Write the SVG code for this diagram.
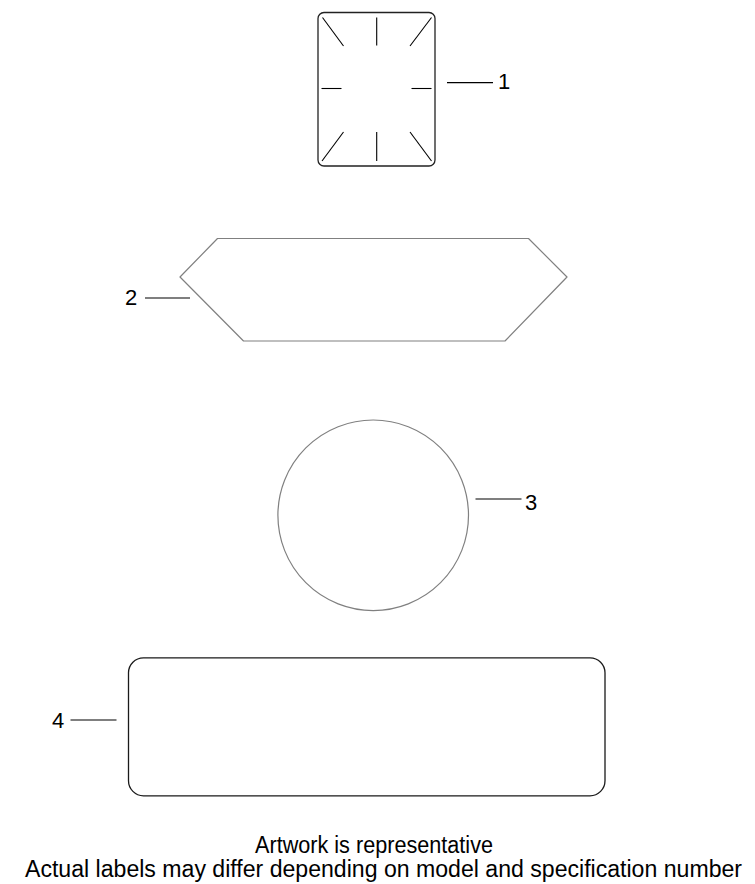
<svg xmlns="http://www.w3.org/2000/svg" width="755" height="884" viewBox="0 0 755 884">
<style>
.lead{stroke:#000;stroke-width:1.2;fill:none}
.num{font-family:"Liberation Sans",Arial,sans-serif;font-size:22px;fill:#000}
.note{font-family:"Liberation Sans",Arial,sans-serif;font-size:23px;fill:#000}
.mark{stroke:#000;stroke-width:1.1;fill:none}
</style>
<rect width="755" height="884" fill="#fff"/>
<g id="node1">
<rect x="318" y="12.5" width="117" height="153.5" rx="6" fill="none" stroke="#222" stroke-width="1.3"/>
<line class="mark" x1="322.5" y1="17.5" x2="343.5" y2="46"/>
<line class="mark" x1="376.7" y1="17.5" x2="376.7" y2="45.5"/>
<line class="mark" x1="431.5" y1="17.5" x2="410" y2="46"/>
<line class="mark" x1="321.5" y1="88.5" x2="341.5" y2="88.5" stroke="#555"/>
<line class="mark" x1="411.5" y1="88.5" x2="431.5" y2="88.5" stroke="#555"/>
<line class="mark" x1="343.5" y1="132" x2="322" y2="161"/>
<line class="mark" x1="376.7" y1="132" x2="376.7" y2="161"/>
<line class="mark" x1="410" y1="132" x2="431.5" y2="161"/>
<text class="num" x="498" y="89">1</text>
</g>
<g id="node2">
<polygon points="217.5,238.5 528.5,238.5 567,277 505,341 243.5,341 180,277" fill="none" stroke="#808080" stroke-width="1.2" stroke-linejoin="round"/>
<text class="num" x="125" y="305">2</text>
</g>
<g id="node3">
<circle cx="373.2" cy="515.3" r="95.3" fill="none" stroke="#808080" stroke-width="1.2"/>
<text class="num" x="525" y="509.5">3</text>
</g>
<g id="node4">
<rect x="128.5" y="657.8" width="476.5" height="138" rx="15" fill="none" stroke="#1a1a1a" stroke-width="1.3"/>
<text class="num" x="52" y="728">4</text>
</g>
<g id="connectors">
<line class="lead" x1="447" y1="82.7" x2="493" y2="82.7"/>
<line class="lead" x1="145" y1="298" x2="190" y2="298"/>
<line class="lead" x1="475.5" y1="499" x2="521.5" y2="499"/>
<line class="lead" x1="70.5" y1="720" x2="116.5" y2="720"/>
</g>
<text class="note" x="255" y="853" textLength="238" lengthAdjust="spacingAndGlyphs">Artwork is representative</text>
<text class="note" x="25" y="877" textLength="717" lengthAdjust="spacingAndGlyphs">Actual labels may differ depending on model and specification number</text>
</svg>
